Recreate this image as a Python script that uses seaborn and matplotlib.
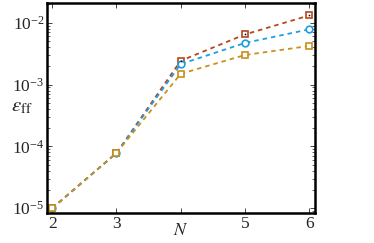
import numpy as np
import pandas as pd
import matplotlib
matplotlib.use("Agg")
import matplotlib.pyplot as plt
import seaborn as sns
from matplotlib.ticker import LogLocator, FixedLocator, FixedFormatter

# --- data ---
N = [2, 3, 4, 5, 6]
err_red = [1.0e-5, 7.8e-5, 2.42e-3, 6.45e-3, 1.31e-2]
err_blue = [1.0e-5, 7.8e-5, 2.14e-3, 4.7e-3, 7.8e-3]
err_orange = [1.0e-5, 7.8e-5, 1.49e-3, 3.0e-3, 4.2e-3]
x_ticks = [2, 3, 4, 5, 6]
x_ticklabels = ["2", "3", "", "5", "6"]

sns.set_style("ticks")
plt.rcParams["font.family"] = ["Liberation Serif", "DejaVu Serif"]
plt.rcParams["mathtext.fontset"] = "stix"

fig = plt.figure(figsize=(3.74, 2.43), dpi=100)
ax = fig.add_axes([0.126, 0.123, 0.716, 0.865])

series = [
    (err_red, "#b5461c", "s"),
    (err_blue, "#1e9de2", "o"),
    (err_orange, "#c8901c", "s"),
]
for vals, col, mk in series:
    sns.lineplot(x=N, y=vals, ax=ax, color=col, marker=mk, markersize=4.8,
                 markerfacecolor="white", markeredgecolor=col, markeredgewidth=1.2,
                 linestyle=(0, (2.5, 2.2)), linewidth=1.3)

# small dot in the red squares
sns.scatterplot(x=N[2:], y=err_red[2:], ax=ax, color="black", s=1.5, linewidth=0, zorder=5)

ax.set_yscale("log")
ax.set_xlim(1.92, 6.09)
ax.set_ylim(10 ** -5.08, 10 ** -1.68)

ax.xaxis.set_major_locator(FixedLocator(x_ticks))
ax.xaxis.set_major_formatter(FixedFormatter(x_ticklabels))
ax.yaxis.set_major_locator(LogLocator(base=10, numticks=10))
ax.yaxis.set_minor_locator(LogLocator(base=10, subs=np.arange(2, 10), numticks=10))

ax.tick_params(which="both", direction="in", top=True, right=True, labelsize=12.5, pad=2)
ax.tick_params(which="major", length=3.5, width=0.6)
ax.tick_params(which="minor", length=2, width=0.5)
for sp in ax.spines.values():
    sp.set_linewidth(1.8)
    sp.set_color("black")

ax.set_xlabel(r"$N$", fontsize=13)
ax.xaxis.set_label_coords(0.5, -0.04)
ax.set_ylabel(r"$\varepsilon_{\rm ff}$", fontsize=15, rotation=0)
ax.yaxis.set_label_coords(-0.095, 0.46)

fig.savefig("out.png", dpi=100)
